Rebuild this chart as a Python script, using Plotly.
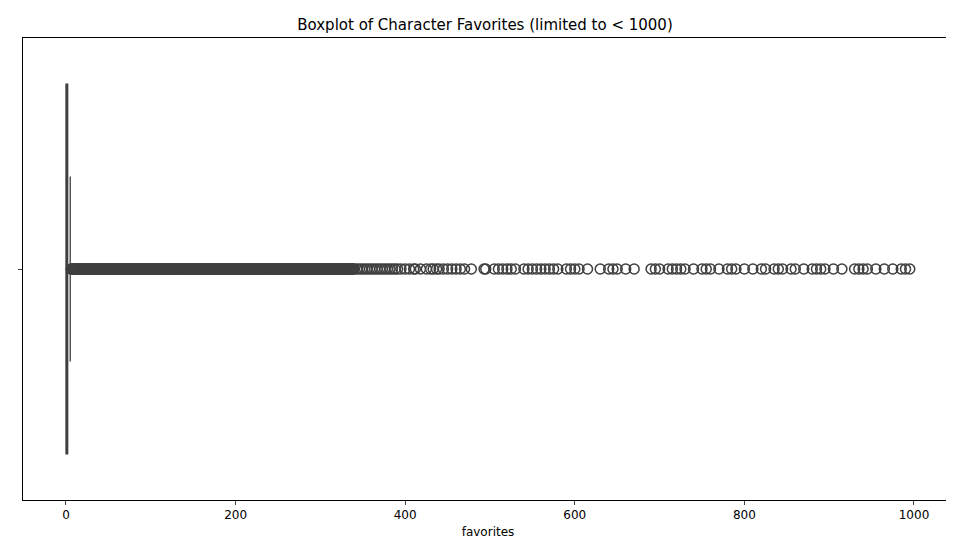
import plotly.graph_objects as go

# Box statistics (favorites)
q1 = [0]
median = [1]
q3 = [2]
lower_fence = [0]
upper_fence = [5]

# Outlier values
dense_outliers = list(range(6, 341))
mid_outliers = [343, 346, 349, 352, 355, 358, 361, 364, 367, 370, 373, 376, 379, 382, 385, 388, 391, 395]
sparse_outliers = [400, 405, 410, 412, 418, 425, 430, 433, 437, 440, 445, 450, 455, 460, 465, 470, 478,
                   493, 495, 505, 510, 515, 520, 525, 530, 540, 545, 550, 555, 560, 565, 570, 575, 580,
                   590, 595, 600, 605, 615, 630, 640, 645, 650, 660, 670, 690, 695, 700, 710, 715, 720,
                   725, 730, 740, 750, 755, 760, 770, 780, 785, 790, 800, 810, 820, 825, 835, 840, 845,
                   855, 860, 870, 880, 885, 890, 895, 905, 915, 930, 935, 940, 945, 955, 965, 975, 985,
                   990, 995]
outliers = dense_outliers + mid_outliers + sparse_outliers

fig = go.Figure()
fig.add_trace(go.Box(
    y=[0], q1=q1, median=median, q3=q3, lowerfence=lower_fence, upperfence=upper_fence,
    orientation="h", width=0.8, whiskerwidth=0.5, boxpoints=False,
    fillcolor="#3274a1", line=dict(color="#3f3f3f", width=1.3), showlegend=False,
))
fig.add_trace(go.Scatter(
    x=outliers, y=[0] * len(outliers), mode="markers",
    marker=dict(symbol="circle-open", size=10, color="#3f3f3f", line=dict(width=1.5)),
    showlegend=False,
))
fig.update_layout(
    width=954, height=547, plot_bgcolor="white", paper_bgcolor="white",
    margin=dict(l=15, r=9, t=30, b=55),
    font=dict(family="DejaVu Sans", size=12, color="black"),
    title=dict(text="Boxplot of Character Favorites (limited to < 1000)", x=0.5, xanchor="center",
               y=1 - 17 / 547, yanchor="middle", font=dict(size=15)),
    xaxis=dict(range=[-50.7, 1046], tickvals=[0, 200, 400, 600, 800, 1000], ticks="outside",
               ticklen=4, showgrid=False, zeroline=False, showline=True, linecolor="black",
               mirror=True, automargin=False, tickfont=dict(size=12),
               title=dict(text="favorites", standoff=6, font=dict(size=12))),
    yaxis=dict(range=[0.5, -0.5], tickvals=[0], ticktext=[""], ticks="outside", ticklen=4,
               showgrid=False, zeroline=False, showline=True, linecolor="black", mirror=True,
               automargin=False),
)
fig.write_html("out.html")
